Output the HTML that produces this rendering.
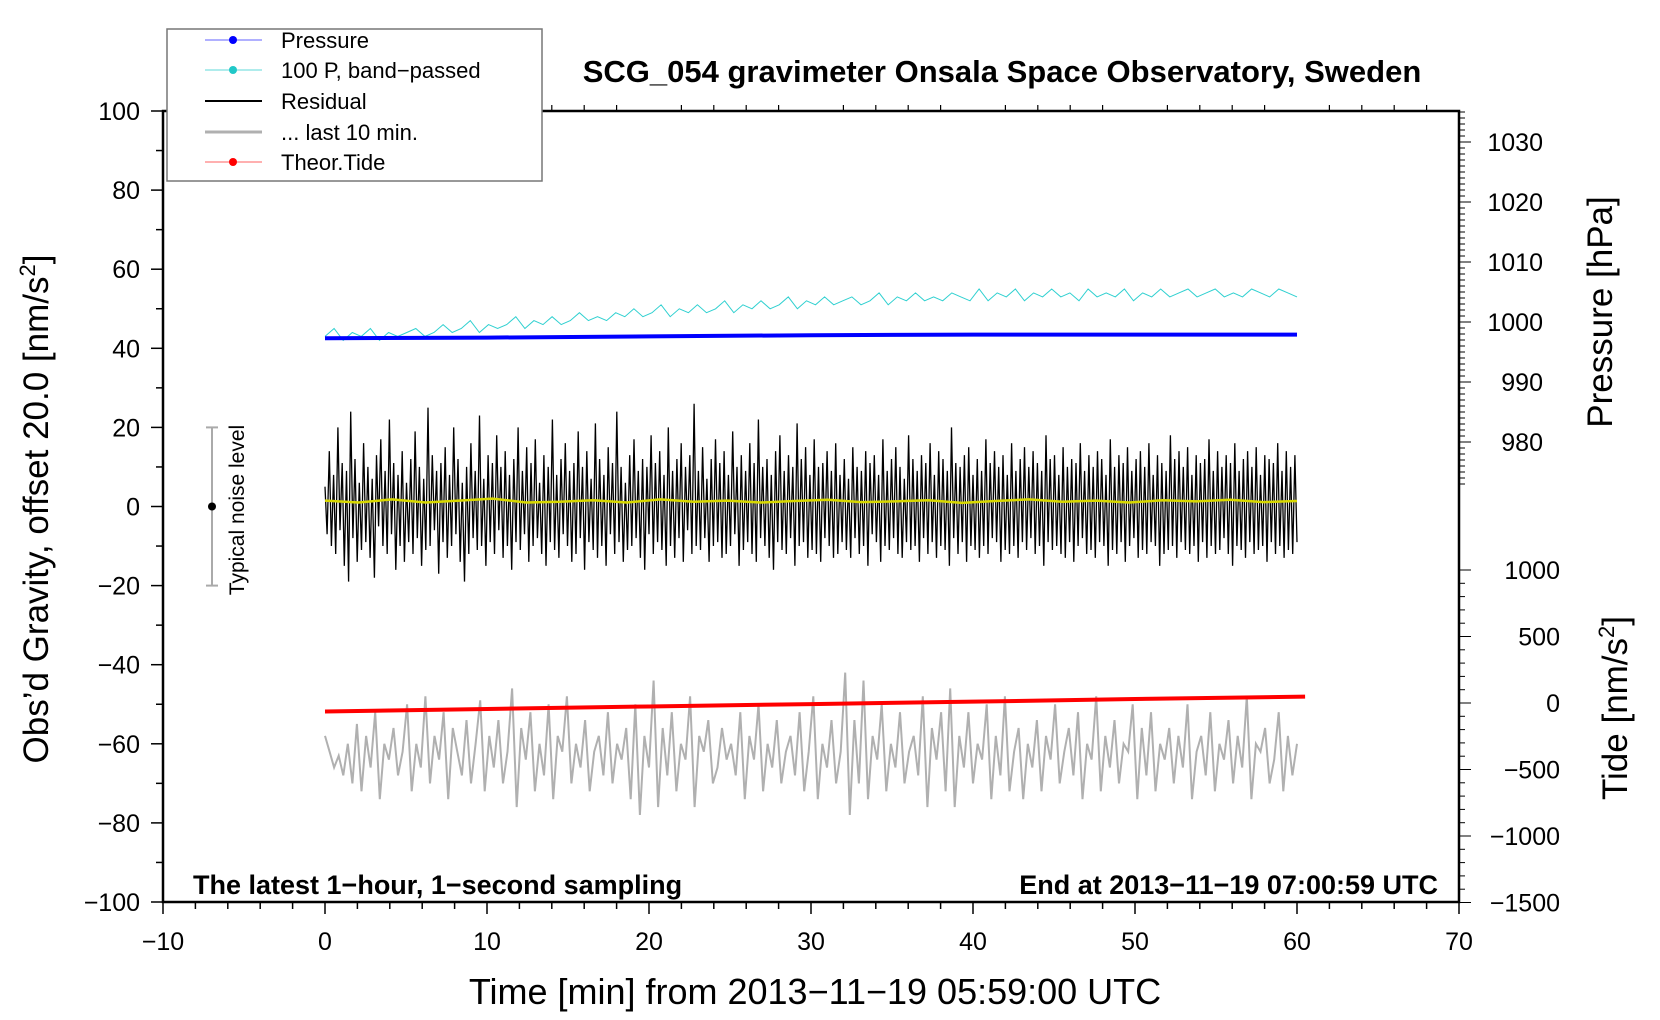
<!DOCTYPE html>
<html><head><meta charset="utf-8"><style>
html,body{margin:0;padding:0;background:#fff;}
svg{display:block;font-family:"Liberation Sans",sans-serif;}
</style></head><body>
<svg id="chart" width="1660" height="1020" viewBox="0 0 1660 1020">
<g id="marks"></g>
<g id="axes"></g>
</svg>
<script>
const xTicks=[-10,0,10,20,30,40,50,60,70];
const yTicks=[100,80,60,40,20,0,-20,-40,-60,-80,-100];
const pTicks=[1030,1020,1010,1000,990,980];
const tTicks=[1000,500,0,-500,-1000,-1500];
const pressureTime=[0,10,20,30,40,50,60];
const pressureVals=[997.3,997.4,997.6,997.8,997.9,997.9,997.9];
const tideTime=[0,10,20,30,40,50,60.5];
const tideVals=[-64,-45,-26,-8,10,30,48];
const meanVals=[1.5,1,1.8,1,1.5,2,1,1.2,1.6,1,1.8,1.2,1.5,1,1.4,1.7,1.1,1.3,1.6,0.9,1.4,1.8,1.2,1.5,1.0,1.6,1.3,1.7,1.1,1.4];
const cyanVals=[43,45,42,44,43,45,42,44,43,44,45,43,44,46,44,45,47,44,46,45,46,48,45,47,46,48,46,47,49,47,48,47,49,48,50,48,49,51,48,50,49,51,49,50,52,49,51,50,52,50,51,53,50,52,51,53,51,52,53,51,52,54,51,53,52,54,52,53,52,54,53,52,55,52,54,53,55,52,54,53,55,53,54,52,55,53,54,53,55,52,54,53,55,53,54,55,53,54,55,53,54,53,55,54,53,55,54,53];
const residVals=[5,-7,14,-10,8,-12,20,-6,11,-15,9,-19,24,-8,12,-14,6,-11,16,-9,10,-13,7,-18,13,-5,17,-10,9,-12,22,-7,11,-16,8,-10,14,-14,6,-9,12,-12,19,-8,10,-15,7,-11,25,-10,13,-6,9,-17,11,-9,15,-13,8,-10,20,-7,12,-14,6,-19,10,-12,16,-8,9,-11,23,-10,7,-15,13,-9,11,-12,18,-6,10,-13,14,-10,8,-16,12,-9,20,-11,9,-7,15,-14,11,-10,17,-8,6,-12,13,-15,10,-9,22,-11,8,-13,12,-7,16,-10,9,-14,11,-12,19,-8,10,-16,14,-9,7,-11,21,-13,12,-10,8,-15,15,-7,11,-12,24,-9,10,-14,6,-11,13,-10,17,-8,9,-13,12,-16,10,-7,18,-12,11,-9,14,-11,8,-15,20,-10,9,-13,12,-8,16,-14,10,-6,13,-12,26,-10,9,-11,15,-8,7,-14,12,-10,17,-9,11,-13,14,-12,8,-10,19,-7,10,-15,13,-11,9,-9,16,-12,11,-14,22,-8,10,-10,12,-13,8,-16,14,-9,18,-11,9,-12,13,-8,10,-15,21,-10,12,-9,15,-13,8,-11,17,-12,10,-14,11,-8,14,-10,9,-13,16,-12,
8,-9,12,-11,7,-13,15,-8,10,-12,9,-10,14,-15,11,-7,13,-9,8,-14,17,-10,9,-11,12,-8,15,-12,10,-13,7,-9,18,-11,12,-10,9,-14,13,-8,11,-12,16,-9,8,-13,14,-10,12,-11,9,-15,20,-8,11,-12,10,-9,13,-14,15,-10,8,-11,12,-13,9,-10,17,-12,11,-8,14,-9,10,-14,13,-11,8,-12,16,-10,9,-13,12,-9,15,-11,10,-8,14,-12,11,-10,9,-15,18,-9,12,-11,13,-10,8,-12,15,-13,10,-9,12,-14,11,-10,16,-8,9,-12,13,-11,10,-13,14,-9,12,-10,8,-15,17,-11,10,-12,13,-9,11,-14,15,-10,9,-8,12,-13,14,-11,10,-12,16,-9,8,-10,13,-15,11,-12,9,-11,18,-10,12,-13,14,-9,10,-11,15,-12,8,-10,13,-14,11,-9,12,-13,17,-10,9,-12,14,-11,10,-8,13,-12,11,-15,16,-10,9,-11,12,-13,14,-9,10,-12,15,-11,8,-10,13,-14,12,-9,11,-12,16,-10,9,-13,14,-11,10,-12,13,-9];
const greyVals=[-58,-62,-66,-63,-68,-60,-70,-55,-72,-58,-66,-52,-74,-60,-64,-56,-68,-62,-50,-72,-60,-66,-48,-70,-58,-64,-52,-74,-56,-62,-68,-54,-70,-60,-49,-72,-58,-66,-54,-70,-62,-46,-76,-56,-64,-52,-72,-60,-68,-50,-74,-58,-62,-48,-70,-60,-66,-54,-72,-62,-58,-68,-52,-70,-60,-64,-56,-74,-50,-78,-58,-66,-44,-76,-56,-68,-52,-72,-60,-64,-48,-76,-58,-62,-54,-70,-66,-56,-64,-60,-68,-52,-74,-58,-64,-50,-72,-60,-66,-54,-70,-62,-58,-68,-52,-72,-62,-48,-74,-60,-66,-54,-70,-62,-42,-78,-54,-70,-44,-74,-58,-64,-50,-72,-60,-66,-52,-70,-62,-58,-68,-48,-76,-56,-64,-52,-72,-46,-76,-58,-66,-52,-70,-60,-64,-50,-74,-58,-68,-48,-72,-62,-56,-74,
-60,-66,-54,-72,-58,-64,-50,-70,-62,-56,-68,-52,-74,-60,-64,-48,-72,-58,-66,-54,-70,-60,-62,-50,-74,-56,-68,-52,-72,-60,-64,-56,-70,-58,-66,-50,-74,-62,-58,-68,-52,-72,-60,-64,-54,-70,-58,-66,-48,-74,-60,-62,-56,-70,-64,-52,-72,-58,-68,-60];
const X=t=>163+(t+10)*16.2;
const Y=v=>111+(100-v)*3.955;
const P=p=>142+(1030-p)*6;
const T=v=>703-v*0.133;
const NS='http://www.w3.org/2000/svg';
const marks=document.getElementById('marks'),axes=document.getElementById('axes');
function mk(tag,attrs,parent,text){const e=document.createElementNS(NS,tag);for(const k in attrs)e.setAttribute(k,attrs[k]);if(text!==undefined)e.textContent=text;parent.appendChild(e);return e;}
function series(vals,t0,t1,yf){const n=vals.length;return vals.map((v,i)=>X(t0+(t1-t0)*i/(n-1)).toFixed(1)+','+yf(v).toFixed(1)).join(' ');}
let e;
e=mk('polyline',{points:series(cyanVals,0,60,Y),fill:'none',stroke:'#2fd0d0','stroke-width':1},marks);


e=mk('polyline',{points:pressureVals.map((v,i)=>X(pressureTime[i])+','+P(v)).join(' '),fill:'none',stroke:'#0000ff','stroke-width':4},marks);


e=mk('polyline',{points:series(greyVals,0,60,Y),fill:'none',stroke:'#b0b0b0','stroke-width':2},marks);


e=mk('polyline',{points:tideVals.map((v,i)=>X(tideTime[i])+','+T(v)).join(' '),fill:'none',stroke:'#ff0000','stroke-width':4},marks);


e=mk('polyline',{points:series(residVals,0,60,Y),fill:'none',stroke:'#000','stroke-width':1.3},marks);


e=mk('polyline',{points:series(meanVals,0,60,Y),fill:'none',stroke:'#d8d800','stroke-width':2.5},marks);


e=mk('rect',{x:163,y:111,width:1296,height:791,fill:'none',stroke:'#000','stroke-width':2.5},axes);


for(let t=-10;t<=70;t+=2){const maj=t%10===0;mk('line',{x1:X(t),x2:X(t),y1:902,y2:902+(maj?12:7),stroke:'#000','stroke-width':1.5},axes);mk('line',{x1:X(t),x2:X(t),y1:111,y2:111-(maj?0:6),stroke:'#000','stroke-width':1.2},axes);}
xTicks.forEach(t=>{e=mk('text',{x:X(t),y:950,'font-size':25,'text-anchor':'middle'},axes,String(t).replace('-','\u2212'));

});
for(let v=-100;v<=100;v+=10){const maj=v%20===0;mk('line',{x1:163,x2:163-(maj?12:7),y1:Y(v),y2:Y(v),stroke:'#000','stroke-width':1.5},axes);}
yTicks.forEach(v=>{e=mk('text',{x:140,y:Y(v)+9,'font-size':25,'text-anchor':'end'},axes,String(v).replace('-','\u2212'));

});
for(let p=1035;p>=973;p--){const maj=p%10===0;mk('line',{x1:1459,x2:1459+(maj?12:6),y1:P(p),y2:P(p),stroke:'#000','stroke-width':1},axes);}
pTicks.forEach(p=>{e=mk('text',{x:1543,y:P(p)+9,'font-size':25,'text-anchor':'end'},axes,String(p));

});
for(let v=-1500;v<=1000;v+=100){const maj=v%500===0;mk('line',{x1:1459,x2:1459+(maj?12:6),y1:T(v),y2:T(v),stroke:'#000','stroke-width':1},axes);}
tTicks.forEach(v=>{e=mk('text',{x:1560,y:T(v)+9,'font-size':25,'text-anchor':'end'},axes,String(v).replace('-','\u2212'));

});
mk('line',{x1:212,x2:212,y1:Y(20),y2:Y(-20),stroke:'#aaa','stroke-width':2},axes);
mk('line',{x1:206,x2:218,y1:Y(20),y2:Y(20),stroke:'#aaa','stroke-width':2},axes);
mk('line',{x1:206,x2:218,y1:Y(-20),y2:Y(-20),stroke:'#aaa','stroke-width':2},axes);
mk('circle',{cx:212,cy:Y(0),r:4,fill:'#000'},axes);
</script>
<svg width="1660" height="1020" style="position:absolute;left:0;top:0">
<text x="244" y="510" font-size="21" text-anchor="middle" transform="rotate(-90 244 510)">Typical noise level</text>
<text x="1002" y="82" font-size="31" font-weight="bold" text-anchor="middle">SCG_054 gravimeter Onsala Space Observatory, Sweden</text>
<text x="193" y="894" font-size="27" font-weight="bold">The latest 1−hour, 1−second sampling</text>
<text x="1438" y="894" font-size="27" font-weight="bold" text-anchor="end">End at 2013−11−19 07:00:59 UTC</text>
<text x="815" y="1004" font-size="36" text-anchor="middle">Time [min] from 2013−11−19 05:59:00 UTC</text>
<text x="48" y="509" font-size="35" text-anchor="middle" transform="rotate(-90 48 509)">Obs’d Gravity, offset 20.0 [nm/s<tspan font-size="22" dy="-13">2</tspan><tspan dy="13">]</tspan></text>
<text x="1612" y="312" font-size="35" text-anchor="middle" transform="rotate(-90 1612 312)">Pressure [hPa]</text>
<text x="1627" y="708" font-size="35" text-anchor="middle" transform="rotate(-90 1627 708)">Tide [nm/s<tspan font-size="22" dy="-13">2</tspan><tspan dy="13">]</tspan></text>
<g>
<rect x="167" y="29" width="375" height="152" fill="#fff" stroke="#777" stroke-width="1.5"/>
<g><line x1="205" y1="40" x2="262" y2="40" stroke="#6060ff"/><circle cx="233" cy="40" r="4" fill="#0000ff"/><text x="281" y="48" font-size="22">Pressure</text></g>
<g><line x1="205" y1="70" x2="262" y2="70" stroke="#5fdada"/><circle cx="233" cy="70" r="4" fill="#20c8c8"/><text x="281" y="78" font-size="22">100 P, band−passed</text></g>
<g><line x1="205" y1="101" x2="262" y2="101" stroke="#000" stroke-width="2"/><text x="281" y="109" font-size="22">Residual</text></g>
<g><line x1="205" y1="132" x2="262" y2="132" stroke="#b0b0b0" stroke-width="3"/><text x="281" y="140" font-size="22">... last 10 min.</text></g>
<g><line x1="205" y1="162" x2="262" y2="162" stroke="#ff6060"/><circle cx="233" cy="162" r="4" fill="#ff0000"/><text x="281" y="170" font-size="22">Theor.Tide</text></g>
</g>
</svg>
</body></html>
